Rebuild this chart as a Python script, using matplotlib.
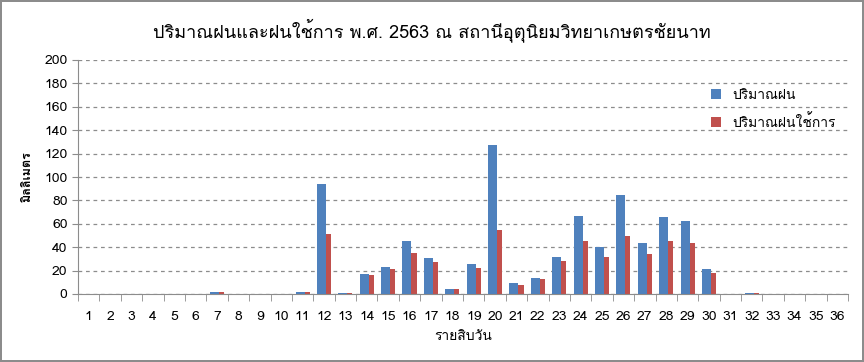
import numpy as np
import matplotlib
matplotlib.use("Agg")
import matplotlib.pyplot as plt
from matplotlib import font_manager
from matplotlib.ft2font import FT2Font

# find a family that has Thai glyphs
thai_fam = None
for f in font_manager.fontManager.ttflist:
    try:
        if 0x0E1B in FT2Font(f.fname).get_charmap():
            thai_fam = f.name
            break
    except Exception:
        pass
fams = ([thai_fam] if thai_fam else []) + ["DejaVu Sans"]
plt.rcParams["font.family"] = fams

# data
days = list(range(1, 37))
rain = [0, 0, 0, 0, 0, 0, 2, 0, 0, 0, 2, 94, 1, 17, 23, 45, 31, 4.5, 26, 127,
        9, 14, 32, 67, 40, 85, 44, 66, 62, 21, 0, 1, 0, 0, 0, 0]
eff_rain = [0, 0, 0, 0, 0, 0, 2, 0, 0, 0, 2, 51, 1, 16, 21, 35, 27, 4.5, 22, 55,
            8, 13, 28, 45, 32, 50, 34, 45, 44, 18, 0, 1, 0, 0, 0, 0]
title = "ปริมาณฝนและฝนใช้การ พ.ศ. 2563 ณ สถานีอุตุนิยมวิทยาเกษตรชัยนาท"
labels = ["ปริมาณฝน", "ปริมาณฝนใช้การ"]

fig = plt.figure(figsize=(8.64, 3.62), dpi=100)
fig.patch.set_edgecolor("#8c8c8c")
fig.patch.set_linewidth(1.5)
ax = fig.add_axes([78 / 864, 1 - 294 / 362, 770 / 864, 234 / 362])

x = np.arange(len(days))
w = 0.42
ax.bar(x + 0.12, eff_rain, w, color="#C0504D", label=labels[1], zorder=2)
ax.bar(x - 0.12, rain, w, color="#4F81BD", label=labels[0], zorder=3)

ax.set_xlim(-0.5, len(days) - 0.5)
ax.set_ylim(0, 200)
ax.set_yticks(range(0, 201, 20))
ax.set_xticks(x)
ax.set_xticklabels(days)
ax.set_xticks(np.arange(-0.5, len(days)), minor=True)
ax.tick_params(axis="x", which="major", length=0, pad=12, labelsize=10)
ax.tick_params(axis="x", which="minor", length=5, color="#8c8c8c")
ax.tick_params(axis="y", length=4, color="#8c8c8c", labelsize=10)
ax.yaxis.grid(True, linestyle=(0, (3, 3)), color="#8c8c8c", linewidth=0.9)
ax.set_axisbelow(True)
for s in ["top", "right"]:
    ax.spines[s].set_visible(False)
for s in ["left", "bottom"]:
    ax.spines[s].set_color("#8c8c8c")

fig.text(0.5, 1 - 30 / 362, title, fontsize=13, ha="center", va="center")
ax.set_xlabel("รายสิบวัน", fontsize=10, labelpad=6)
ax.set_ylabel("มิลลิเมตร", fontsize=9, fontweight="bold", labelpad=8)

h, l = ax.get_legend_handles_labels()
ax.legend(h[::-1], l[::-1], loc="upper right", bbox_to_anchor=(1.0, 0.93),
          frameon=False, fontsize=10, handlelength=0.7, handleheight=0.7,
          labelspacing=0.9)

fig.savefig("out.png", dpi=100)
